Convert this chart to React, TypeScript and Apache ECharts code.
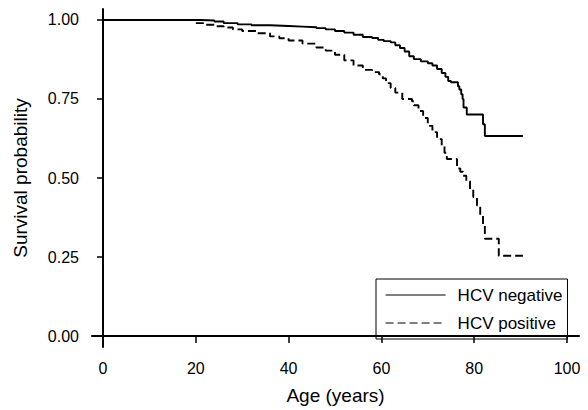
import React, { useEffect, useRef } from "react";
import * as echarts from "echarts";

const xTicks = [0, 20, 40, 60, 80, 100];
const yTicks = [0, 0.25, 0.5, 0.75, 1];

const negAge = [0, 21, 24, 26, 29, 32, 36, 40, 43, 46, 48, 50, 52, 54, 56, 58, 59.3, 60.5, 62, 63, 64, 65, 66, 67, 68.5, 70, 71, 72, 73, 73.8, 74.4, 75, 76.5, 76.8, 77.2, 77.5, 77.7, 78.4, 81.9, 82.3, 90.5];
const negSurv = [1.0, 0.998, 0.995, 0.99, 0.986, 0.983, 0.981, 0.979, 0.977, 0.974, 0.97, 0.965, 0.96, 0.953, 0.946, 0.943, 0.937, 0.933, 0.929, 0.92, 0.911, 0.9, 0.885, 0.876, 0.869, 0.863, 0.856, 0.845, 0.832, 0.82, 0.807, 0.803, 0.79, 0.78, 0.765, 0.75, 0.723, 0.701, 0.67, 0.633, 0.633];

const posAge = [0, 20, 22, 24, 26, 28, 30, 33, 36, 38, 40, 43, 46, 48, 50, 52, 54, 56, 58, 59.5, 60.3, 61, 62, 63, 64.5, 66.6, 67, 68, 69, 70, 71, 72, 73, 73.6, 74.1, 76.3, 77, 77.6, 78.3, 79.1, 79.8, 80.6, 81.3, 81.9, 82.3, 85.3, 90.5];
const posSurv = [1.0, 0.99, 0.985, 0.98, 0.976, 0.97, 0.965, 0.958, 0.948, 0.942, 0.935, 0.925, 0.913, 0.903, 0.89, 0.872, 0.856, 0.842, 0.835, 0.828, 0.815, 0.8, 0.785, 0.77, 0.75, 0.743, 0.73, 0.712, 0.69, 0.665, 0.645, 0.623, 0.6, 0.58, 0.56, 0.53, 0.52, 0.507, 0.49, 0.465, 0.44, 0.413, 0.381, 0.35, 0.308, 0.254, 0.254];

const FONT = "Liberation Sans, Arial, Helvetica, sans-serif";

export default function App() {
  const ref = useRef<HTMLDivElement>(null);
  useEffect(() => {
    if (!ref.current) return;
    const chart = echarts.init(ref.current, undefined, { renderer: "svg" });
    const neg = negAge.map((a, i) => [a, negSurv[i]]);
    const pos = posAge.map((a, i) => [a, posSurv[i]]);
    chart.setOption({
      animation: false,
      backgroundColor: "#fff",
      textStyle: { fontFamily: FONT, color: "#000" },
      grid: { left: 92, right: 9, top: 9, bottom: 61, containLabel: false },
      xAxis: {
        type: "value",
        min: -2.37,
        max: 102.59,
        name: "Age (years)",
        nameLocation: "middle",
        nameGap: 39,
        nameTextStyle: { fontSize: 19, color: "#000", fontFamily: FONT },
        axisLine: { show: true, lineStyle: { color: "#000", width: 2 } },
        axisTick: { show: true, length: 7, customValues: xTicks, lineStyle: { color: "#000", width: 1.5 } },
        axisLabel: { customValues: xTicks, fontSize: 16, color: "#000", margin: 13, fontFamily: FONT },
        splitLine: { show: false },
      },
      yAxis: {
        type: "value",
        min: -0.0346,
        max: 1.0346,
        name: "Survival probability",
        nameLocation: "middle",
        nameGap: 62,
        nameTextStyle: { fontSize: 19, color: "#000", fontFamily: FONT },
        axisLine: { show: true, lineStyle: { color: "#000", width: 2 } },
        axisTick: { show: true, length: 6, customValues: yTicks, lineStyle: { color: "#000", width: 1.5 } },
        axisLabel: {
          customValues: yTicks,
          fontSize: 16,
          color: "#000",
          margin: 13,
          fontFamily: FONT,
          formatter: (v: number) => v.toFixed(2),
        },
        splitLine: { show: false },
      },
      legend: {
        orient: "vertical",
        left: 376,
        top: 279,
        borderColor: "#000",
        borderWidth: 1,
        padding: [6, 5, 6, 9],
        itemGap: 8,
        itemWidth: 60,
        itemHeight: 20,
        itemStyle: { opacity: 0 },
        lineStyle: { width: 1.2 },
        textStyle: { fontSize: 17, color: "#000", fontFamily: FONT, lineHeight: 20, padding: [0, 0, 0, 7] },
        data: ["HCV negative", "HCV positive"],
      },
      series: [
        {
          name: "HCV positive",
          type: "line",
          step: "end",
          symbol: "none",
          data: pos,
          z: 2,
          lineStyle: { color: "#000", width: 1.9, type: [8, 4] },
          itemStyle: { color: "#000" },
        },
        {
          name: "HCV negative",
          type: "line",
          step: "end",
          symbol: "none",
          data: neg,
          z: 3,
          lineStyle: { color: "#000", width: 1.9, type: "solid" },
          itemStyle: { color: "#000" },
        },
      ],
    });
    return () => chart.dispose();
  }, []);
  return (
    <div
      ref={ref}
      style={{ position: "fixed", left: 0, top: 0, width: 588, height: 410 }}
    />
  );
}
